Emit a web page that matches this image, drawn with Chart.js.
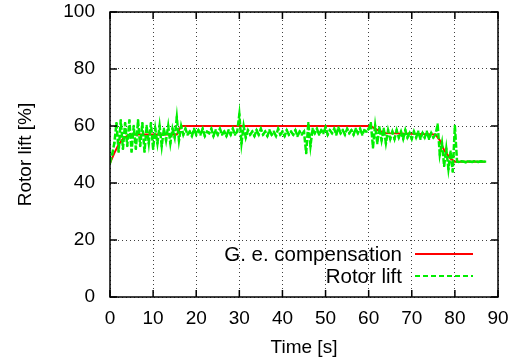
<!DOCTYPE html>
<html>
<head>
<meta charset="utf-8">
<script src="https://cdn.jsdelivr.net/npm/chart.js@4/dist/chart.umd.min.js"></script>
<style>
  html, body { margin: 0; padding: 0; background: #fff; }
  #wrap { width: 520px; height: 362px; }
</style>
</head>
<body>
<div id="wrap"><canvas id="chart" width="520" height="362"></canvas></div>
<script>
'use strict';

// ground effect compensation (red), breakpoints
var compTime = [0, 1, 2, 3, 4, 5, 8, 15.5, 16.5, 60.5, 61.5, 63, 64, 75.5, 76.5, 77.5, 79, 80, 87];
var compValues = [47, 50.5, 53.5, 55.5, 56.5, 57, 57, 57, 60, 60, 59, 58, 57.5, 57, 55, 51.5, 48.5, 47.5, 47.5];

// measured rotor lift (green), one sample every half second from t = 0
var liftStep = 0.5;
var liftValues = [
  47, 50, 54, 61, 51, 62, 52, 61, 53, 62, 51, 60, 52, 62, 53, 61, 51, 60, 54, 61,
  52, 59, 54, 60, 53, 59, 55, 60, 54, 59, 56, 63, 55, 60, 57, 59, 57, 58, 56.5, 59,
  57, 58.5, 57, 59, 56.5, 58, 57.5, 59, 56.5, 58.5, 57, 59, 57, 58, 56.5, 58.5, 57, 59, 57, 58,
  64, 54, 60, 56, 58.5, 57, 58, 56.5, 58.5, 57, 59, 57, 58, 56.5, 58.5, 57, 58, 56.5, 59, 57,
  58, 56.5, 58.5, 57, 58, 57, 58.5, 56.5, 58, 57, 58, 50.5, 61, 53, 59, 57.5, 59, 57, 58.5, 57.5,
  59.5, 57, 58.5, 57.5, 59, 57, 59.5, 57.5, 58.5, 57, 59, 57.5, 58.5, 57, 59, 57.5, 59, 57, 58.5, 58,
  59, 61, 52.5, 60, 54, 59.5, 55, 59, 54, 58.5, 55.5, 58, 55.5, 58.5, 56, 58, 55.5, 58.5, 56, 57.5,
  55.5, 58, 56, 58, 55.5, 57.5, 56, 58, 55.5, 57.5, 56, 57, 60.5, 50, 54, 46, 52, 45, 51, 44,
  60, 47.5, 47.4, 47.6, 47.5, 47.3, 47.6, 47.5, 47.4, 47.6, 47.5, 47.4, 47.6, 47.5, 47.5
];

var xTicks = [0, 10, 20, 30, 40, 50, 60, 70, 80, 90];
var yTicks = [0, 20, 40, 60, 80, 100];
var legendLabels = ['G. e. compensation', 'Rotor lift'];

var FONT = 'Liberation Sans, Arial, sans-serif';

var compPoints = [];
for (var i = 0; i < compTime.length; i++) {
  compPoints.push({ x: compTime[i], y: compValues[i] });
}
var liftPoints = [];
for (var j = 0; j < liftValues.length; j++) {
  liftPoints.push({ x: j * liftStep, y: liftValues[j] });
}

// frame, inner ticks and the gnuplot style key
var framePlugin = {
  id: 'frame',
  afterDatasetsDraw: function (chart) {
    var c = chart.ctx;
    var a = chart.chartArea;
    var xs = chart.scales.x;
    var ys = chart.scales.y;
    c.save();
    c.strokeStyle = '#000';
    c.lineWidth = 1.5;
    c.strokeRect(a.left, a.top, a.right - a.left, a.bottom - a.top);
    c.beginPath();
    xTicks.forEach(function (t) {
      var px = xs.getPixelForValue(t);
      c.moveTo(px, a.bottom); c.lineTo(px, a.bottom - 7);
      c.moveTo(px, a.top); c.lineTo(px, a.top + 7);
    });
    yTicks.forEach(function (t) {
      var py = ys.getPixelForValue(t);
      c.moveTo(a.left, py); c.lineTo(a.left + 7, py);
      c.moveTo(a.right, py); c.lineTo(a.right - 7, py);
    });
    c.stroke();

    // key
    c.font = '20.5px ' + FONT;
    c.fillStyle = '#000';
    c.textAlign = 'right';
    c.textBaseline = 'middle';
    var rows = [255, 277];
    var colors = ['#ff0000', '#00ee00'];
    var dashes = [[], [5, 3]];
    for (var k = 0; k < legendLabels.length; k++) {
      c.fillText(legendLabels[k], 402, rows[k]);
      c.strokeStyle = colors[k];
      c.lineWidth = 2;
      c.setLineDash(dashes[k]);
      c.beginPath();
      c.moveTo(415, rows[k] - 1);
      c.lineTo(473, rows[k] - 1);
      c.stroke();
    }
    c.restore();
  }
};

var ctx = document.getElementById('chart').getContext('2d');

var chart = new Chart(ctx, {
  type: 'line',
  data: {
    datasets: [
      {
        label: legendLabels[1],
        data: liftPoints,
        borderColor: '#00ee00',
        backgroundColor: '#00ee00',
        borderWidth: 2.5,
        borderDash: [6, 2],
        pointStyle: 'rect',
        pointRadius: 1.6,
        pointBorderWidth: 0,
        tension: 0,
        order: 0
      },
      {
        label: legendLabels[0],
        data: compPoints,
        borderColor: '#ff0000',
        borderWidth: 2,
        pointRadius: 0,
        tension: 0,
        order: 1
      }
    ]
  },
  options: {
    responsive: false,
    animation: false,
    layout: { padding: { left: 0, right: 22, top: 0, bottom: 0 } },
    plugins: {
      legend: { display: false },
      tooltip: { enabled: false }
    },
    scales: {
      x: {
        type: 'linear',
        min: 0,
        max: 90,
        afterFit: function (s) { s.height = 65; },
        afterBuildTicks: function (s) { s.ticks = xTicks.map(function (v) { return { value: v }; }); },
        ticks: { color: '#000', font: { family: FONT, size: 19 }, padding: 10, maxRotation: 0 },
        grid: { color: 'rgba(0,0,0,0.75)', drawTicks: false, lineWidth: 1 },
        border: { display: false, dash: [1, 3] },
        title: { display: true, text: 'Time [s]', color: '#000', font: { family: FONT, size: 19 }, padding: { top: 0, bottom: 3 } }
      },
      y: {
        min: 0,
        max: 100,
        afterFit: function (s) { s.width = 110; s.paddingTop = 12; s.paddingBottom = 0; },
        afterBuildTicks: function (s) { s.ticks = yTicks.map(function (v) { return { value: v }; }); },
        ticks: { color: '#000', font: { family: FONT, size: 19 }, padding: 15 },
        grid: { color: 'rgba(0,0,0,0.75)', drawTicks: false, lineWidth: 1 },
        border: { display: false, dash: [1, 3] },
        title: { display: true, text: 'Rotor lift [%]', color: '#000', font: { family: FONT, size: 19 }, padding: { top: 14, bottom: 0 } }
      }
    }
  },
  plugins: [framePlugin]
});
</script>
</body>
</html>
